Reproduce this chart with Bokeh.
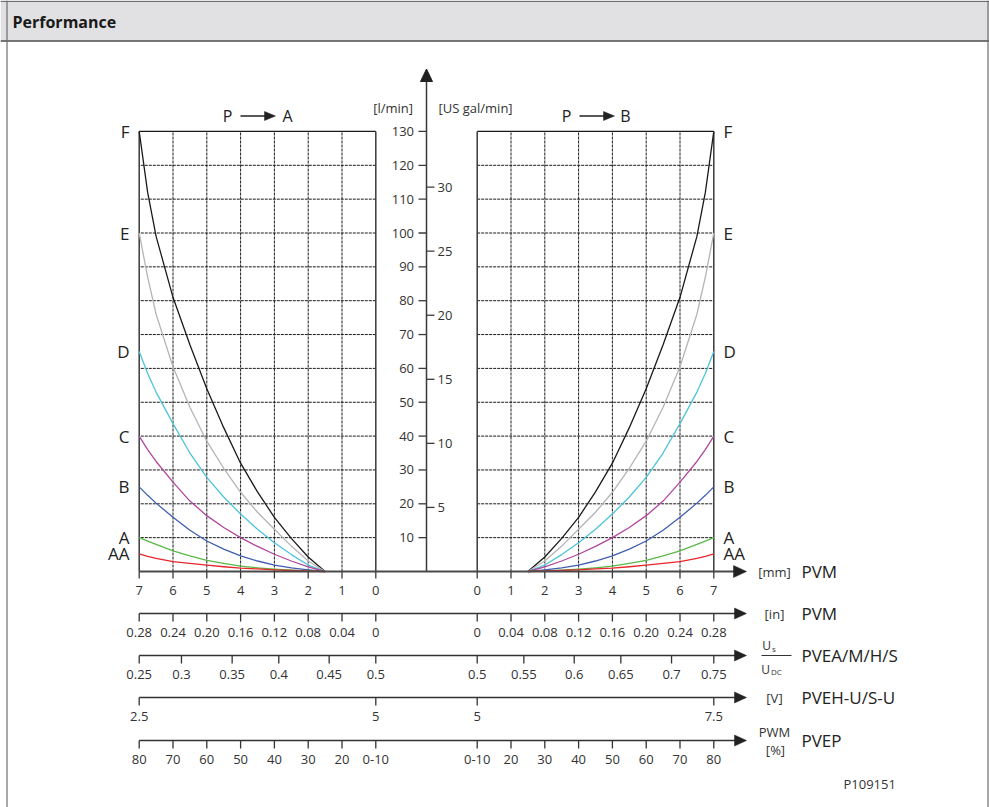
from bokeh.plotting import figure
from bokeh.models import Range1d, ColumnDataSource
from bokeh.core.properties import value
from bokeh.embed import file_html
from bokeh.resources import INLINE

# ---------------- data ----------------
stroke_mm = [1.5, 2, 2.5, 3, 3.5, 4, 4.5, 5, 5.5, 6, 6.5, 6.75, 7]
flow_F = [0, 4.3, 9.8, 16, 23.5, 32, 42.5, 54, 67, 81, 99, 112, 130]
flow_E = [0, 3.1, 7.5, 12.5, 17.5, 23.4, 30.5, 38.5, 48.5, 60.5, 76, 87, 100]
flow_D = [0, 1.9, 5, 8.5, 12.5, 17, 22, 27.8, 35, 43.7, 53, 58.5, 65]
flow_C = [0, 1.4, 3.1, 5.1, 7.4, 10, 13, 16.5, 20.8, 26.4, 32.5, 36, 40]
flow_B = [0, 0.5, 1.1, 1.9, 3.1, 4.6, 6.6, 9.0, 12.2, 16, 20.2, 22.5, 25]
flow_A = [0, 0.2, 0.4, 0.7, 1.1, 1.6, 2.4, 3.3, 4.6, 6.1, 8, 9, 10]
flow_AA = [0, 0.15, 0.3, 0.5, 0.75, 1.0, 1.4, 1.9, 2.4, 2.9, 3.9, 4.5, 5.2]
curve_names = ["F", "E", "D", "C", "B", "A", "AA"]
curve_flows = [flow_F, flow_E, flow_D, flow_C, flow_B, flow_A, flow_AA]
curve_colors = ["#1a1a1a", "#b5b5b5", "#4cc4da", "#b0479f", "#3f5db0", "#5ab847", "#e8262b"]

lpm_ticks = [10, 20, 30, 40, 50, 60, 70, 80, 90, 100, 110, 120, 130]
gal_ticks = [5, 10, 15, 20, 25, 30]
LPM_PER_GAL = 3.78541
mm_ticks = [0, 1, 2, 3, 4, 5, 6, 7]
inch_labels = ["0", "0.04", "0.08", "0.12", "0.16", "0.20", "0.24", "0.28"]
us_left = ["0.5", "0.45", "0.4", "0.35", "0.3", "0.25"]
us_right = ["0.5", "0.55", "0.6", "0.65", "0.7", "0.75"]
us_stroke = [0, 1.38, 2.87, 4.25, 5.75, 7]
volt_left = ["5", "2.5"]
volt_right = ["5", "7.5"]
volt_stroke = [0, 7]
pwm_labels = ["0-10", "20", "30", "40", "50", "60", "70", "80"]

# ---------------- layout constants (pixels) ----------------
W, H = 989, 807
SX = 33.8      # px per mm
CX = 426.0     # centre axis
SY = 3.385     # px per l/min
BY = 571.0     # zero flow line
GAP = 1.5      # half gap between panels, mm units


def u(px):
    return (px - CX) / SX


def q(py):
    return (BY - py) / SY


def L(m):
    return -(m + GAP)


def R(m):
    return m + GAP


p = figure(width=W, height=H, x_range=Range1d(u(0), u(W)), y_range=Range1d(q(H), q(0)),
           output_backend="svg", toolbar_location=None, min_border=0,
           x_axis_location=None, y_axis_location=None)
p.grid.visible = False
p.outline_line_color = None
p.background_fill_color = "white"

FONT = value("Open Sans")
TXT = "#333333"


def txt(xs, ys, texts, size="13px", align="center", color=TXT, style="normal", baseline="middle"):
    src = ColumnDataSource(dict(x=list(xs), y=list(ys), t=list(texts)))
    p.text(x="x", y="y", text="t", source=src, text_font=FONT, text_font_size=size,
           text_align=align, text_baseline=baseline, text_color=color, text_font_style=style)


def arrowhead_right(tip_px, py, length=12, half=6, color="#333333"):
    p.patch([u(tip_px), u(tip_px - length), u(tip_px - length)],
            [q(py), q(py - half), q(py + half)], fill_color=color, line_color=color, line_width=0.5)


# ---------------- header and frame ----------------
p.quad(left=u(0), right=u(W), top=q(0), bottom=q(40.5), fill_color="#e1e1e3", line_color=None)
p.line([u(0), u(W)], [q(40.5), q(40.5)], line_color="#4d4d4d", line_width=1.3)
p.line([u(0), u(W)], [q(0.8), q(0.8)], line_color="#6d6d6d", line_width=1.3)
p.line([u(6.5), u(6.5)], [q(0), q(H)], line_color="#6d6d6d", line_width=1.2)
p.line([u(987.5), u(987.5)], [q(0), q(H)], line_color="#6d6d6d", line_width=1.2)
txt([u(12)], [q(21)], ["Performance"], size="16px", align="left", color="#1a1a1a", style="bold")

# ---------------- grids ----------------
for side in (L, R):
    for m in [1, 2, 3, 4, 5, 6]:
        p.line([side(m), side(m)], [0, 130], line_color="#1a1a1a", line_width=1, line_dash="3 1")
    for v in lpm_ticks[:-1]:
        p.line([side(0), side(7)], [v, v], line_color="#1a1a1a", line_width=1, line_dash="3 1")
    # panel frame
    p.line([side(0), side(7)], [130, 130], line_color="#1a1a1a", line_width=1.3)
    p.line([side(0), side(0)], [0, 130], line_color="#3a3a3a", line_width=1.5)
    p.line([side(7), side(7)], [0, 130], line_color="#3a3a3a", line_width=1.5)

# ---------------- curves ----------------
for name, fl, col in zip(curve_names, curve_flows, curve_colors):
    p.line([L(m) for m in stroke_mm], fl, line_color=col, line_width=1.3, line_join="round")
    p.line([R(m) for m in stroke_mm], fl, line_color=col, line_width=1.3, line_join="round")
txt([u(129)] * len(curve_names), [f[-1] for f in curve_flows], curve_names, size="17px", align="right", color="#222222")
txt([u(723)] * len(curve_names), [f[-1] for f in curve_flows], curve_names, size="17px", align="left", color="#222222")

# ---------------- P -> A / P -> B ----------------
for cx_p, a_start, a_tip, cx_l, letter in [(227, 240, 275, 287, "A"), (566, 579, 614, 625, "B")]:
    txt([u(cx_p)], [q(115.5)], ["P"], size="16px", color="#222222")
    p.line([u(a_start), u(a_tip - 10)], [q(115.5), q(115.5)], line_color="#222222", line_width=1.3)
    arrowhead_right(a_tip, 115.5, length=11, half=4.5, color="#222222")
    txt([u(cx_l)], [q(115.5)], [letter], size="16px", color="#222222")

# ---------------- centre vertical axis ----------------
p.line([0, 0], [0, q(80)], line_color="#3a3a3a", line_width=1.5)
p.patch([0, u(CX - 6), u(CX + 6)], [q(68.5), q(81), q(81)], fill_color="#222222", line_color="#222222")
p.segment(x0=[u(418)] * len(lpm_ticks), x1=[0] * len(lpm_ticks), y0=lpm_ticks, y1=lpm_ticks,
          line_color="#3a3a3a", line_width=1.3)
txt([u(413.5)] * len(lpm_ticks), lpm_ticks, [str(v) for v in lpm_ticks], align="right")
gal_q = [g * LPM_PER_GAL for g in gal_ticks]
p.segment(x0=[0] * len(gal_ticks), x1=[u(434)] * len(gal_ticks), y0=gal_q, y1=gal_q,
          line_color="#3a3a3a", line_width=1.3)
txt([u(437)] * len(gal_ticks), gal_q, [str(g) for g in gal_ticks], align="left")
txt([u(412.5)], [q(107)], ["[l/min]"], align="right")
txt([u(438)], [q(107)], ["[US gal/min]"], align="left")

# ---------------- zero-flow (mm) axis ----------------
p.line([L(7), u(736)], [0, 0], line_color="#4a4a4a", line_width=2)
arrowhead_right(746, BY, length=13, half=6, color="#222222")
for side in (L, R):
    p.segment(x0=[side(m) for m in mm_ticks], x1=[side(m) for m in mm_ticks],
              y0=[0] * len(mm_ticks), y1=[q(BY + 7)] * len(mm_ticks), line_color="#3a3a3a", line_width=1.3)
    txt([side(m) for m in mm_ticks], [q(590)] * len(mm_ticks), [str(m) for m in mm_ticks])

# ---------------- lower axes ----------------
def lower_axis(py):
    p.line([L(7), u(736)], [q(py), q(py)], line_color="#333333", line_width=1.5)
    arrowhead_right(746, py, length=12, half=5.5, color="#222222")


def ticks(xs, py, labels):
    p.segment(x0=xs, x1=xs, y0=[q(py)] * len(xs), y1=[q(py + 8)] * len(xs), line_color="#333333", line_width=1.3)
    txt(xs, [q(py + 18.5)] * len(xs), labels)


Y_IN, Y_US, Y_V, Y_PWM = 613, 655, 697, 740
for yy in (Y_IN, Y_US, Y_V, Y_PWM):
    lower_axis(yy)
ticks([L(m) for m in mm_ticks], Y_IN, inch_labels)
ticks([R(m) for m in mm_ticks], Y_IN, inch_labels)
ticks([L(s) for s in us_stroke], Y_US, us_left)
ticks([R(s) for s in us_stroke], Y_US, us_right)
ticks([L(s) for s in volt_stroke], Y_V, volt_left)
ticks([R(s) for s in volt_stroke], Y_V, volt_right)
ticks([L(m) for m in mm_ticks], Y_PWM, pwm_labels)
ticks([R(m) for m in mm_ticks], Y_PWM, pwm_labels)

# ---------------- right-hand unit labels ----------------
txt([u(774)] * 3, [q(571), q(613), q(697)], ["[mm]", "[in]", "[V]"])
txt([u(801)] * 5, [q(571), q(613), q(655), q(697), q(740)],
    ["PVM", "PVM", "PVEA/M/H/S", "PVEH-U/S-U", "PVEP"], size="17px", align="left", color="#222222")
txt([u(774)], [q(731)], ["PWM"])
txt([u(775)], [q(749)], ["[%]"])
# U_s / U_DC fraction
txt([u(766)], [q(645)], ["U"], size="12px")
txt([u(771.5)], [q(648)], ["s"], size="8px", align="left")
p.line([u(761), u(791)], [q(655), q(655)], line_color="#333333", line_width=1)
txt([u(765)], [q(669)], ["U"], size="12px")
txt([u(770.5)], [q(671)], ["DC"], size="8px", align="left")

txt([u(843)], [q(783)], ["P109151"], align="left")

open("out.html", "w").write(file_html(p, INLINE))
